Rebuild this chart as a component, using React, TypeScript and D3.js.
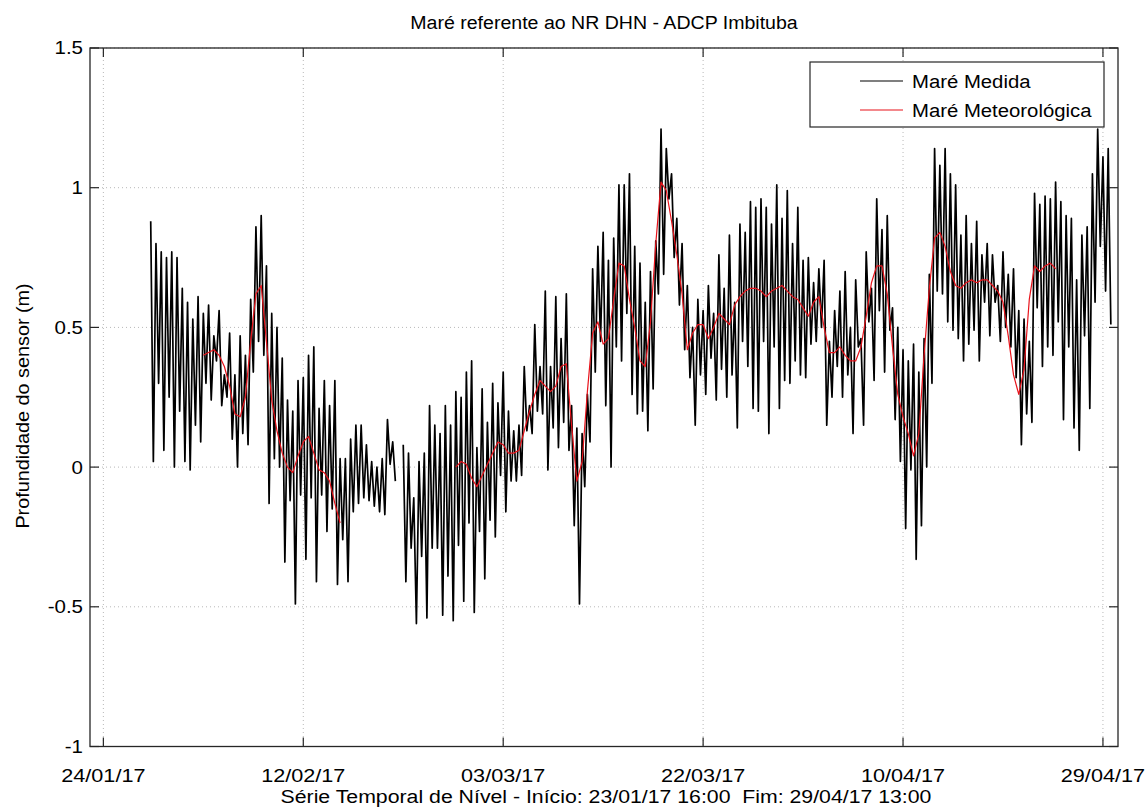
import React from 'react';
import * as d3 from 'd3';

// ---------- text ----------
const chartTitle = 'Maré referente ao NR DHN - ADCP Imbituba';
const xAxisLabel = 'Série Temporal de Nível - Início: 23/01/17 16:00  Fim: 29/04/17 13:00';
const yAxisLabel = 'Profundidade do sensor (m)';
const legendLabels = ['Maré Medida', 'Maré Meteorológica'];

// ---------- axes ----------
const xDomainLabels = ['22/01/17 17:30', '30/04/17 10:20'];
const xTickLabels = ['24/01/17', '12/02/17', '03/03/17', '22/03/17', '10/04/17', '29/04/17'];
const yDomain = [-1, 1.5];
const yTickValues = [-1, -0.5, 0, 0.5, 1, 1.5];
const yTickLabels = ['-1', '-0.5', '0', '0.5', '1', '1.5'];

// ---------- measured tide (high / low of each semidiurnal cycle, 6 h apart) ----------
const measuredStart = '28/01/17 12:00';
const measuredStepHours = 6;
const measuredHighs: (number | null)[] = [
  0.88, 0.80, 0.77, 0.75, 0.77, 0.75, 0.64, 0.59, 0.53, 0.61,
  0.55, 0.58, 0.47, 0.56, 0.33, 0.48, 0.33, 0.47, 0.40, 0.60,
  0.86, 0.90, 0.72, 0.55, 0.50, 0.39, 0.24, 0.20, 0.31, 0.32,
  0.40, 0.43, 0.21, 0.31, 0.22, 0.31, 0.03, 0.03, 0.10, 0.15,
  0.15, 0.08, 0.02, 0.00, 0.03, 0.17, 0.09, null, 0.08, 0.05,
  -0.11, 0.02, 0.05, 0.22, 0.15, 0.12, 0.22, 0.15, 0.27, 0.25,
  0.34, 0.38, 0.07, 0.28, 0.16, 0.30, 0.23, 0.34, 0.20, 0.13,
  0.15, 0.36, 0.22, 0.51, 0.36, 0.63, 0.36, 0.61, 0.46, 0.62,
  0.22, 0.14, 0.12, 0.26, 0.71, 0.79, 0.84, 0.74, 0.82, 1.01,
  1.01, 1.05, 0.79, 0.73, 0.59, 0.70, 0.81, 1.21, 1.14, 1.05,
  0.89, 0.80, 0.65, 0.50, 0.60, 0.56, 0.65, 0.55, 0.76, 0.64,
  0.83, 0.59, 0.87, 0.84, 0.95, 0.93, 0.96, 0.93, 0.87, 1.01,
  0.89, 0.99, 0.80, 0.93, 0.74, 0.75, 0.66, 0.71, 0.74, 0.45,
  0.56, 0.63, 0.70, 0.50, 0.67, 0.46, 0.77, 0.64, 0.96, 0.85,
  0.90, 0.57, 0.50, 0.42, 0.38, 0.44, 0.34, 0.46, 0.69, 1.14,
  1.08, 1.14, 1.05, 1.01, 0.83, 0.90, 0.80, 0.88, 0.76, 0.80,
  0.76, 0.65, 0.77, 0.69, 0.71, 0.56, 0.53, 0.45, 0.98, 0.94,
  0.97, 0.96, 1.02, 0.95, 0.90, 0.89, 0.67, 0.83, 0.86, 1.05,
  1.21, 1.11, 1.14,
];
const measuredLows: (number | null)[] = [
  0.02, 0.30, 0.06, 0.25, 0.00, 0.20, 0.02, -0.01, 0.15, 0.09,
  0.30, 0.24, 0.38, 0.22, 0.25, 0.10, 0.00, 0.12, 0.08, 0.34,
  0.45, 0.40, -0.13, 0.03, 0.00, -0.34, -0.12, -0.49, -0.10, -0.33,
  -0.11, -0.41, -0.10, -0.23, -0.15, -0.42, -0.26, -0.41, -0.16, -0.13,
  -0.11, -0.12, -0.14, -0.16, -0.17, 0.01, -0.05, null, -0.41, -0.29,
  -0.56, -0.32, -0.54, -0.29, -0.29, -0.53, -0.39, -0.55, -0.28, -0.48,
  -0.20, -0.52, -0.23, -0.40, -0.19, -0.25, -0.03, -0.16, -0.05, -0.05,
  -0.03, 0.13, 0.12, 0.20, 0.19, -0.01, 0.14, 0.07, 0.16, 0.06,
  -0.21, -0.49, -0.07, 0.09, 0.34, 0.45, 0.22, 0.00, 0.43, 0.38,
  0.55, 0.26, 0.19, 0.20, 0.13, 0.28, 0.62, 0.69, 0.96, 0.75,
  0.58, 0.42, 0.32, 0.15, 0.33, 0.26, 0.39, 0.24, 0.35, 0.25,
  0.33, 0.14, 0.45, 0.36, 0.21, 0.20, 0.45, 0.12, 0.43, 0.21,
  0.31, 0.30, 0.38, 0.33, 0.32, 0.44, 0.45, 0.50, 0.15, 0.25,
  0.36, 0.25, 0.33, 0.12, 0.43, 0.15, 0.52, 0.31, 0.56, 0.34,
  0.49, 0.17, 0.02, -0.22, -0.01, -0.33, -0.21, 0.00, 0.30, 0.63,
  0.62, 0.52, 0.49, 0.46, 0.38, 0.44, 0.49, 0.38, 0.59, 0.47,
  0.59, 0.45, 0.50, 0.43, 0.32, 0.08, 0.19, 0.16, 0.57, 0.36,
  0.43, 0.40, 0.52, 0.17, 0.43, 0.14, 0.06, 0.47, 0.21, 0.59,
  0.79, 0.63, 0.51,
];

// ---------- meteorological tide (every 12 h) ----------
const meteoStart = '02/02/17 12:00';
const meteoStepHours = 12;
const meteoValues: (number | null)[] = [
  0.40, 0.41, 0.42, 0.40, 0.36, 0.29, 0.19, 0.18, 0.25, 0.45,
  0.62, 0.65, 0.45, 0.24, 0.13, 0.05, 0.00, -0.02, 0.04, 0.09,
  0.11, 0.05, -0.01, -0.02, -0.05, -0.13, -0.20, null, null, null,
  null, null, null, null, null, null, null, null, null, null,
  null, null, null, null, null, null, null, null, 0.00, 0.02,
  0.01, -0.04, -0.07, -0.03, 0.01, 0.05, 0.09, 0.08, 0.05, 0.05,
  0.06, 0.13, 0.20, 0.26, 0.31, 0.29, 0.27, 0.29, 0.36, 0.37,
  0.15, -0.05, 0.02, 0.27, 0.48, 0.52, 0.44, 0.46, 0.60, 0.73,
  0.72, 0.60, 0.50, 0.38, 0.36, 0.52, 0.80, 1.02, 0.99, 0.88,
  0.76, 0.62, 0.42, 0.48, 0.51, 0.51, 0.46, 0.50, 0.55, 0.53,
  0.51, 0.58, 0.61, 0.63, 0.64, 0.64, 0.63, 0.61, 0.63, 0.64,
  0.65, 0.63, 0.61, 0.60, 0.57, 0.54, 0.59, 0.61, 0.50, 0.41,
  0.41, 0.43, 0.40, 0.38, 0.38, 0.43, 0.54, 0.66, 0.72, 0.72,
  0.62, 0.43, 0.26, 0.18, 0.12, 0.04, 0.12, 0.40, 0.64, 0.82,
  0.84, 0.79, 0.70, 0.65, 0.64, 0.66, 0.67, 0.66, 0.67, 0.67,
  0.65, 0.63, 0.59, 0.47, 0.33, 0.26, 0.35, 0.60, 0.72, 0.70,
  0.72, 0.73, 0.71,
];

// ---------- layout ----------
const W = 1145;
const H = 807;
const plot = { left: 90, right: 1118, top: 48, bottom: 746.5 };
const FONT = '"Liberation Sans", Arial, Helvetica, sans-serif';

const parseDT = d3.utcParse('%d/%m/%y %H:%M');
const parseD = d3.utcParse('%d/%m/%y');
const HOUR = 3600 * 1000;

type Pt = { t: Date; v: number | null };

export default function App() {
  const x = d3
    .scaleUtc()
    .domain(xDomainLabels.map((s) => parseDT(s) as Date))
    .range([plot.left, plot.right]);
  const y = d3.scaleLinear().domain(yDomain).range([plot.bottom, plot.top]);

  const t0 = (parseDT(measuredStart) as Date).getTime();
  const measured: Pt[] = [];
  measuredHighs.forEach((hv, k) => {
    const base = t0 + k * 2 * measuredStepHours * HOUR;
    measured.push({ t: new Date(base), v: hv });
    measured.push({ t: new Date(base + measuredStepHours * HOUR), v: measuredLows[k] });
  });

  const m0 = (parseDT(meteoStart) as Date).getTime();
  const meteo: Pt[] = meteoValues.map((v, j) => ({
    t: new Date(m0 + j * meteoStepHours * HOUR),
    v,
  }));

  const line = d3
    .line<Pt>()
    .defined((d) => d.v !== null)
    .x((d) => x(d.t))
    .y((d) => y(d.v as number));

  const xTicks = xTickLabels.map((s) => parseD(s) as Date);
  const tickLen = 9;
  const axisColor = '#262626';
  const gridColor = '#b8b8b8';

  const legend = { x: 810, y: 62, w: 294, h: 65 };
  const sx = (cx: number, k: number) => `translate(${cx},0) scale(${k},1) translate(${-cx},0)`;

  return (
    <svg
      width={W}
      height={H}
      style={{ position: 'absolute', left: 0, top: 0, background: '#fff' }}
      fontFamily={FONT}
    >
      <rect x={0} y={0} width={W} height={H} fill="#fff" />
      {/* grid */}
      {xTicks.map((d, i) => (
        <line
          key={'gx' + i}
          x1={x(d)}
          x2={x(d)}
          y1={plot.top}
          y2={plot.bottom}
          stroke={gridColor}
          strokeWidth={1}
          strokeDasharray="1,3"
        />
      ))}
      {yTickValues.map((v, i) => (
        <line
          key={'gy' + i}
          x1={plot.left}
          x2={plot.right}
          y1={y(v)}
          y2={y(v)}
          stroke={gridColor}
          strokeWidth={1}
          strokeDasharray="1,3"
        />
      ))}

      {/* data */}
      <path d={line(measured) || ''} fill="none" stroke="#000" strokeWidth={1.7} strokeLinejoin="round" />
      <path d={line(meteo) || ''} fill="none" stroke="#e8131b" strokeWidth={1.2} strokeLinejoin="round" />

      {/* box */}
      <rect
        x={plot.left}
        y={plot.top}
        width={plot.right - plot.left}
        height={plot.bottom - plot.top}
        fill="none"
        stroke={axisColor}
        strokeWidth={1.3}
      />
      {/* ticks */}
      {xTicks.map((d, i) => (
        <g key={'tx' + i} stroke={axisColor} strokeWidth={1.2}>
          <line x1={x(d)} x2={x(d)} y1={plot.bottom} y2={plot.bottom - tickLen} />
          <line x1={x(d)} x2={x(d)} y1={plot.top} y2={plot.top + tickLen} />
        </g>
      ))}
      {yTickValues.map((v, i) => (
        <g key={'ty' + i} stroke={axisColor} strokeWidth={1.2}>
          <line x1={plot.left} x2={plot.left + tickLen} y1={y(v)} y2={y(v)} />
          <line x1={plot.right} x2={plot.right - tickLen} y1={y(v)} y2={y(v)} />
        </g>
      ))}

      {/* tick labels */}
      {xTicks.map((d, i) => (
        <text
          key={'lx' + i}
          x={x(d)}
          y={782}
          textAnchor="middle"
          fontSize={19}
          fill="#000"
          transform={sx(x(d), 1.14)}
        >
          {xTickLabels[i]}
        </text>
      ))}
      {yTickValues.map((v, i) => (
        <text
          key={'ly' + i}
          x={83}
          y={y(v) + 6.5}
          textAnchor="end"
          fontSize={19}
          fill="#000"
          transform={sx(83, 1.08)}
        >
          {yTickLabels[i]}
        </text>
      ))}

      {/* title and axis labels */}
      <text x={604} y={29} textAnchor="middle" fontSize={19} fill="#000" transform={sx(604, 1.03)}>
        {chartTitle}
      </text>
      <text
        x={606}
        y={803}
        textAnchor="middle"
        fontSize={19}
        fill="#000"
        style={{ whiteSpace: 'pre' }}
        transform={sx(606, 1.12)}
      >
        {xAxisLabel}
      </text>
      <text
        transform="translate(29,406) rotate(-90) scale(1.1,1)"
        textAnchor="middle"
        fontSize={18}
        fill="#000"
      >
        {yAxisLabel}
      </text>

      {/* legend */}
      <rect x={legend.x} y={legend.y} width={legend.w} height={legend.h} fill="#fff" stroke={axisColor} strokeWidth={1.2} />
      <line x1={860} x2={903} y1={81} y2={81} stroke="#000" strokeWidth={1.2} />
      <line x1={860} x2={903} y1={110} y2={110} stroke="#e8131b" strokeWidth={1.2} />
      <text x={912} y={88} fontSize={19} fill="#000" transform={sx(912, 1.07)}>
        {legendLabels[0]}
      </text>
      <text x={912} y={117} fontSize={19} fill="#000" transform={sx(912, 1.07)}>
        {legendLabels[1]}
      </text>
    </svg>
  );
}
